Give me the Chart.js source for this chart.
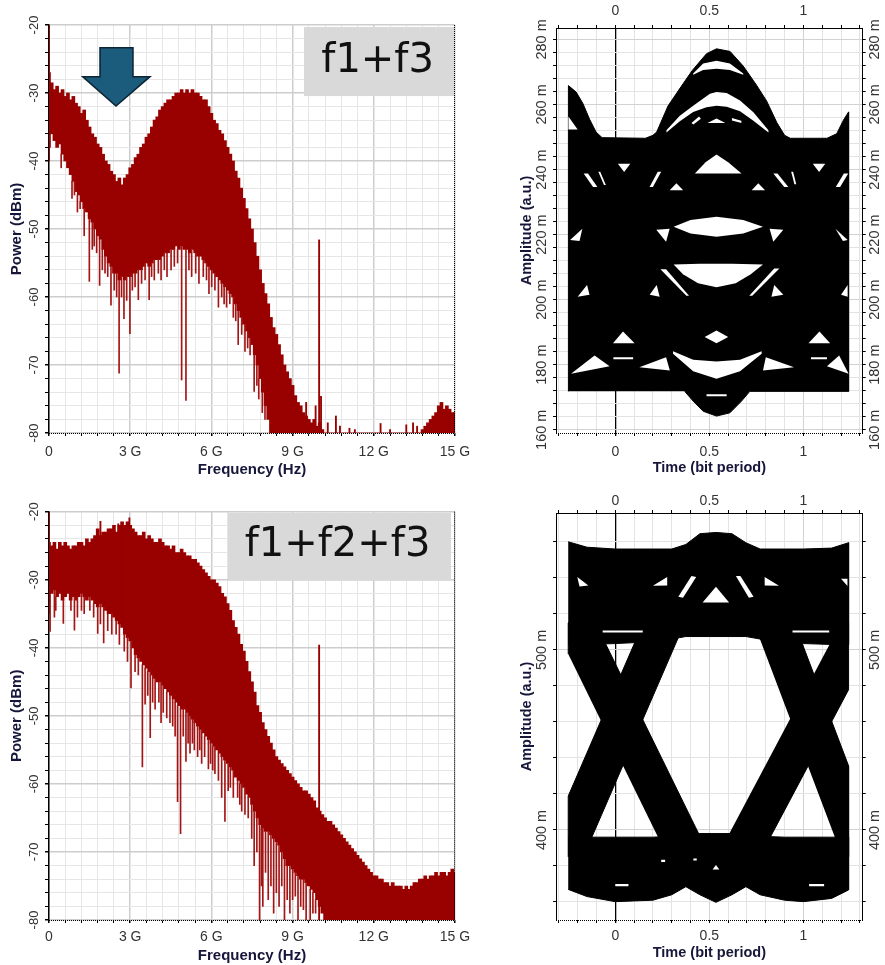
<!DOCTYPE html>
<html>
<head>
<meta charset="utf-8">
<title>Spectra and eye diagrams</title>
<script src="https://cdn.jsdelivr.net/npm/chart.js@4.4.1/dist/chart.umd.min.js"></script>
<style>
  html, body { margin: 0; padding: 0; background: #fff; }
  #wrap { position: relative; width: 885px; height: 965px; overflow: hidden; background: #fff; }
  #wrap canvas { position: absolute; }
</style>
</head>
<body>
<div id="wrap">
  <canvas id="spec1" width="480" height="480" style="left:0px;top:0px"></canvas>
  <canvas id="eye1" width="385" height="480" style="left:500px;top:0px"></canvas>
  <canvas id="spec2" width="480" height="475" style="left:0px;top:490px"></canvas>
  <canvas id="eye2" width="385" height="475" style="left:500px;top:490px"></canvas>
</div>
<script>
// Frequency bins (GHz) shared by both spectra
const freqGHz = [
  0.0,0.1,0.2,0.3,0.4,0.5,0.6,0.7,0.8,0.9,
  1.0,1.1,1.2,1.3,1.4,1.5,1.6,1.7,1.8,1.9,
  2.0,2.1,2.2,2.3,2.4,2.5,2.6,2.7,2.8,2.9,
  3.0,3.1,3.2,3.3,3.4,3.5,3.6,3.7,3.8,3.9,
  4.0,4.1,4.2,4.3,4.4,4.5,4.6,4.7,4.8,4.9,
  5.0,5.1,5.2,5.3,5.4,5.5,5.6,5.7,5.8,5.9,
  6.0,6.1,6.2,6.3,6.4,6.5,6.6,6.7,6.8,6.9,
  7.0,7.1,7.2,7.3,7.4,7.5,7.6,7.7,7.8,7.9,
  8.0,8.1,8.2,8.3,8.4,8.5,8.6,8.7,8.8,8.9,
  9.0,9.1,9.2,9.3,9.4,9.5,9.6,9.7,9.8,9.9,
  10.0,10.1,10.2,10.3,10.4,10.5,10.6,10.7,10.8,10.9,
  11.0,11.1,11.2,11.3,11.4,11.5,11.6,11.7,11.8,11.9,
  12.0,12.1,12.2,12.3,12.4,12.5,12.6,12.7,12.8,12.9,
  13.0,13.1,13.2,13.3,13.4,13.5,13.6,13.7,13.8,13.9,
  14.0,14.1,14.2,14.3,14.4,14.5,14.6,14.7,14.8,14.9,
  15.0
];

// f1+f3 spectrum: top and bottom of the dense trace (dBm)
const spec1Hi = [
  -27,-28.5,-29.5,-29,-30,-29.5,-30.5,-30,-31,-30.5,
  -31.5,-32,-33,-32.5,-34,-35,-36,-36.5,-37.5,-38,
  -39,-40,-40.5,-41.5,-42,-43,-42.5,-43.5,-42.5,-42,
  -41,-40.5,-39.5,-39,-38,-37.5,-36.5,-36,-35,-34,
  -33.5,-32.5,-32,-31.5,-31,-31,-30.5,-30,-30,-29.5,
  -30,-29.5,-30,-29.5,-30,-30,-30.5,-31,-31,-32,
  -33,-34,-34.5,-35.5,-36,-37,-38,-39,-40,-41.5,
  -42.5,-44,-45.5,-47,-48.5,-50,-52,-54,-56,-58,
  -59.5,-61,-63,-64.5,-65.5,-67,-68.5,-70,-71,-72,
  -73,-74.5,-75.5,-76,-77,-77.5,-78,-78.5,-78,-79,
  -78.5,-79.5,-80,-80,-80,-80,-80,-80,-80,-80,
  -80,-80,-80,-80,-80,-80,-80,-80,-80,-80,
  -80,-80,-80,-80,-80,-80,-80,-80,-80,-80,
  -80,-80,-80,-80,-80,-80,-80,-80,-79.5,-79,
  -78.5,-78,-77.5,-77,-76,-75.5,-76.5,-76,-76.5,-77,
  -77
];
const spec1Lo = [
  -38,-36,-37,-38,-37.5,-39,-40,-41,-42,-43,
  -44.5,-45,-46,-47,-47.5,-48.5,-49,-50,-51,-51.5,
  -53,-54,-55,-55.5,-56.5,-56.5,-57.5,-57,-57.5,-57,
  -57,-56.5,-56.5,-56,-56,-55.5,-55,-55.5,-55,-54.5,
  -54.5,-54.5,-54,-53.5,-53.5,-53,-53,-52.5,-53,-52.5,
  -53,-53,-53.5,-53,-53.5,-54,-54,-54.5,-55,-55.5,
  -56,-56.5,-57,-57.5,-58,-58.5,-59,-59.5,-60,-61,
  -62,-63,-64,-65,-66,-67,-68.5,-70,-72,-74,
  -76,-78,-80,-80,-80,-80,-80,-80,-80,-80,
  -80,-80,-80,-80,-80,-80,-80,-80,-80,-80,
  -80,-80,-80,-80,-80,-80,-80,-80,-80,-80,
  -80,-80,-80,-80,-80,-80,-80,-80,-80,-80,
  -80,-80,-80,-80,-80,-80,-80,-80,-80,-80,
  -80,-80,-80,-80,-80,-80,-80,-80,-80,-80,
  -80,-80,-80,-80,-80,-80,-80,-80,-80,-80,
  -80
];
const spec1NotchF = [0.45,0.85,0.94,1.05,1.15,1.3,1.49,1.6,1.67,1.76,1.87,1.97,2.07,2.17,2.29,2.41,2.5,2.59,2.68,2.77,2.87,2.99,3.08,3.18,3.3,3.42,3.55,3.7,3.79,3.89,4.04,4.14,4.26,4.36,4.51,4.63,4.75,4.9,5.06,5.17,5.27,5.42,5.54,5.7,5.82,5.91,6.01,6.13,6.26,6.38,6.47,6.56,6.68,6.81,6.9,6.99,7.12,7.24,7.34,7.43,7.58,7.68,7.75,7.88,7.98];
const spec1NotchDb = [-41,-45.5,-45,-47.5,-47,-51,-57.7,-53,-52.5,-53.5,-58.3,-56,-56.5,-57,-61.2,-59,-60,-71.2,-60,-63.2,-60.5,-65.4,-59,-58.5,-60.4,-58,-57.5,-60.4,-57,-57.5,-56.5,-57.5,-56,-57,-56,-55.5,-55,-72.2,-75.2,-56,-57,-56.5,-58,-57,-57.5,-59.5,-58.5,-59,-61.5,-60,-61,-61.5,-61,-63,-63.5,-67,-65.5,-68,-67.5,-68.5,-73.9,-73,-75,-77,-78];
const spec1SpikeF = [0, 9.5, 9.85, 9.98, 10.05, 10.3, 10.6, 10.75, 11.1, 11.3, 12.25, 12.6, 13.2, 13.45, 13.6];
const spec1SpikeLo = [-40,-80,-80,-80,-80,-80,-80,-80,-80,-80,-80,-80,-80,-80,-80];
const spec1SpikeHi = [-20,-75.5,-76,-51.6,-74.6,-78.5,-77.5,-79,-79.3,-79.5,-78.6,-79.5,-78.8,-78.5,-79];

// f1+f2+f3 spectrum
const spec2Hi = [
  -24.5,-25,-24.5,-25.5,-24.5,-25,-24.5,-25,-25.5,-25,
  -25,-24.5,-24.5,-25,-24,-24.5,-24,-23.5,-22.5,-23.5,
  -23,-23,-22.5,-22.5,-22,-23,-22,-21.5,-22,-21.5,
  -22,-22.5,-23,-23.5,-23.5,-23,-24,-23.5,-24,-24.5,
  -24.5,-24,-24.5,-25,-25,-25.5,-25,-26,-26,-25.5,
  -26,-26.5,-26.5,-27,-27,-27.5,-28,-28.5,-29,-29.5,
  -30,-30,-30.5,-31,-32,-32.5,-33.5,-34.5,-36,-37,
  -38,-39.5,-40.5,-42,-43.5,-45,-46.5,-48.5,-49.5,-51,
  -52,-53,-54,-55,-56,-56.5,-57,-57.5,-58,-58.5,
  -59,-59.5,-60,-60.5,-61,-61,-61.5,-62,-62.5,-63.5,
  -64,-64.5,-65,-65.5,-65.5,-66,-66.5,-67,-67.5,-68,
  -68.5,-69,-69.5,-70,-70.5,-71,-71.5,-72,-72.5,-73,
  -73.5,-73.5,-74,-74,-74.5,-74.5,-75,-74.5,-75,-75,
  -75,-75.5,-75,-75.5,-75,-74.5,-74.5,-74,-74,-73.5,
  -74,-73.5,-73.5,-73,-73.5,-73,-73,-73.5,-73,-72.5,
  -73
];
const spec2Lo = [
  -33,-32,-31.5,-32.5,-32,-33,-32.5,-32,-33,-32.5,
  -33,-32.5,-32,-32.5,-33,-32.5,-33,-33.5,-34,-33.5,
  -34,-34.5,-35,-35,-35.5,-36,-36.5,-37,-38,-38.5,
  -39,-40,-41,-41.5,-42,-42.5,-43,-43.5,-44,-44.5,
  -45,-45,-45.5,-46,-46.5,-47,-47.5,-48,-48.5,-49,
  -49,-49.5,-50,-50.5,-51,-51.5,-52,-52.5,-53,-53.5,
  -54,-54.5,-55,-55.5,-56,-56.5,-57,-57.5,-58,-59,
  -59.5,-60,-60.5,-61.5,-62,-63,-64,-65,-66,-66.5,
  -67,-67,-67.5,-68,-68.5,-69,-70,-71,-72,-72,
  -72.5,-73,-73.5,-74,-74,-74.5,-75,-75.5,-76,-77,
  -78,-79,-80,-80,-80,-80,-80,-80,-80,-80,
  -80,-80,-80,-80,-80,-80,-80,-80,-80,-80,
  -80,-80,-80,-80,-80,-80,-80,-80,-80,-80,
  -80,-80,-80,-80,-80,-80,-80,-80,-80,-80,
  -80,-80,-80,-80,-80,-80,-80,-80,-80,-80,
  -80
];
const spec2NotchF = [0.04,0.2,0.25,0.53,0.81,0.94,1.05,1.2,1.3,1.51,1.65,1.8,1.9,2.02,2.17,2.32,2.48,2.6,2.78,2.9,3.03,3.18,3.3,3.45,3.55,3.65,3.74,3.83,3.92,4.06,4.14,4.22,4.35,4.47,4.57,4.66,4.75,4.86,4.96,5.06,5.14,5.21,5.3,5.37,5.49,5.57,5.64,5.75,5.89,5.97,6.05,6.13,6.26,6.38,6.5,6.62,6.7,6.81,6.97,7.05,7.12,7.24,7.36,7.49,7.58,7.68,7.78,7.85,7.9,8.0,8.1,8.2,8.3,8.4,8.5,8.6,8.7,8.8,8.9,9.0,9.1,9.2,9.3,9.4,9.5,9.65,9.75,9.85];
const spec2NotchDb = [-37.6,-35.5,-34.5,-36.4,-34.5,-37.4,-35.5,-34.5,-35,-34.5,-35.5,-37.9,-36.5,-39.3,-37.5,-38,-38,-39.5,-40.5,-42,-45.9,-43.5,-44,-57.5,-48.3,-47,-53.2,-48,-49,-48,-51,-49.5,-50.3,-51,-51.5,-53,-62.6,-67.3,-53,-56.7,-54,-55.5,-54,-55,-56,-55,-57,-56,-57.8,-57,-58,-58.5,-59.5,-62,-65.5,-61,-60.5,-62,-62,-63,-64,-64.5,-65,-68,-72,-70,-80,-75,-78,-73,-77,-75,-79,-76,-78,-75,-80,-77,-79,-77,-76.5,-80,-78,-78.5,-80,-80,-79,-79];
const spec2SpikeF = [0, 1.9, 2.56, 2.97, 9.98];
const spec2SpikeLo = [-35, -24, -23, -22.5, -80];
const spec2SpikeHi = [-20, -21.4, -21.8, -20.9, -39.6];

// Label boxes and the arrow, in data units (GHz, dBm)
const box1 = [9.42, 15, -30.45, -20.3];
const box1Text = 'f1+f3';
const box1TextAt = [12.14, -26.9];
const box2 = [6.61, 14.85, -30.14, -20.15];
const box2Text = 'f1+f2+f3';
const box2TextAt = [10.66, -26.58];
const arrowF = [1.884, 3.103, 3.103, 3.731, 2.475, 1.245, 1.884];
const arrowDb = [-23.34, -23.34, -27.6, -27.6, -31.91, -27.6, -27.6];

// Eye diagram 1 (f1+f3): outline of the trace cloud (time in bit periods, amplitude in m a.u.)
const eye1OuterT = [-0.249,-0.249,-0.208,-0.172,-0.137,-0.102,-0.07,0.16,0.2,0.22,0.28,0.35,0.41,0.485,0.538,0.61,0.68,0.75,0.805,0.858,0.9,0.93,1.125,1.177,1.213,1.24,1.24,0.715,0.671,0.609,0.538,0.467,0.414,0.369];
const eye1OuterV = [171.8,265.8,263.8,260.3,255.5,251.5,249.8,249.6,250.5,251.5,259.5,265.5,270.5,275.6,277.1,276.3,271.8,266,261,254.5,250.5,249.6,249.6,251,255.2,257.7,171.8,171.8,168.8,165.2,164.2,165.7,168.8,171.8];
// openings inside the cloud
const eye1HoleT = [
  [0.414,0.467,0.538,0.609,0.68,0.68,0.609,0.538,0.467,0.414],
  [0.272,0.343,0.414,0.503,0.538,0.592,0.663,0.734,0.814,0.814,0.734,0.663,0.592,0.538,0.485,0.414,0.343,0.272],
  [0.405,0.445,0.455,0.415],
  [0.49,0.538,0.585],
  [0.62,0.67,0.67,0.62],
  [0.423,0.48,0.538,0.6,0.671],
  [0.014,0.08,0.047],
  [1.05,1.116,1.083],
  [-0.168,-0.145,-0.095,-0.118],
  [-0.09,-0.08,-0.05,-0.06],
  [0.226,0.244,0.2,0.182],
  [0.84,0.862,0.92,0.898],
  [0.935,0.945,0.962,0.952],
  [1.215,1.238,1.195,1.172],
  [0.289,0.325,0.361],
  [0.725,0.76,0.796],
  [0.31,0.4,0.538,0.68,0.785,0.68,0.538,0.4],
  [0.31,0.45,0.62,0.785,0.72,0.64,0.538,0.44,0.36],
  [0.24,0.27,0.392,0.378],
  [0.845,0.872,0.728,0.712],
  [0.475,0.538,0.6,0.538],
  [0.307,0.414,0.538,0.663,0.778,0.778,0.663,0.538,0.414,0.307],
  [-0.235,-0.03,-0.11],
  [0.128,0.29,0.27],
  [0.785,0.8,0.95],
  [1.125,1.19,1.24],
  [-0.012,0.041,0.103],
  [1.027,1.085,1.142],
  [-0.24,-0.175,-0.19],
  [0.218,0.289,0.27],
  [0.82,0.893,0.84],
  [1.17,1.235,1.21],
  [-0.2,-0.137,-0.15],
  [0.183,0.236,0.22],
  [0.83,0.893,0.845],
  [1.2,1.235,1.235],
  [0.485,0.592,0.592,0.485],
  [-0.01,0.095,0.095,-0.01],
  [1.04,1.125,1.125,1.04],
  [-0.249,-0.2,-0.249]
];
const eye1HoleV = [
  [269.5,272.6,273.4,272.6,269.5,269.1,270.6,271.0,270.6,269.1],
  [252.1,256.5,259.6,263.3,263.8,263.5,261.2,257.6,252.1,251.4,255.0,257.9,259.3,259.6,259.1,257.7,254.8,251.4],
  [254.3,256.3,255.6,253.8],
  [254.3,255.7,254.3],
  [255.8,255.0,254.3,255.1],
  [238.8,242.2,244.6,242.2,238.8],
  [241.8,241.8,239.2],
  [241.8,241.8,239.2],
  [238.8,238.8,234.6,234.6],
  [239.3,239.3,235.2,235.2],
  [239.3,239.3,234.6,234.6],
  [238.8,238.8,234.6,234.6],
  [239.3,239.3,235.5,235.5],
  [238.8,238.8,234.6,234.6],
  [233.6,235.8,233.6],
  [233.6,235.8,233.6],
  [222.4,224.5,225.5,224.5,222.4,220.3,219.3,220.3],
  [210.8,211,211,210.8,207.8,205,203.8,205,207.8],
  [209.3,209.3,201.2,201.2],
  [209.6,209.6,201.2,201.2],
  [188.5,190.5,188.5,186.6],
  [184.1,181.5,181,181.5,184.1,183.4,178,175.7,178,183.4],
  [177.2,179.5,182.8],
  [179.2,178.2,182.3],
  [178.2,182.3,179.2],
  [179.5,182.8,177.2],
  [186.6,190.2,186.6],
  [186.6,190.2,186.6],
  [218.3,221.8,218],
  [221.5,221.8,217.8],
  [221.8,221.5,217.8],
  [221.8,218.3,218],
  [200.9,201.5,204.5],
  [201.5,200.9,204.5],
  [200.9,201.5,204.5],
  [201.5,204.5,200.9],
  [170.9,170.9,170.3,170.3],
  [182.3,182.3,181.7,181.7],
  [182.3,182.3,181.7,181.7],
  [256.3,252.3,252.3]
];

// Eye diagram 2 (f1+f2+f3): the two rails, the four transition arms and small openings
const eye2RailT = [-0.25,-0.15,0,0.2,0.3,0.375,0.45,0.535,0.62,0.694,0.77,0.9,1.0,1.15,1.24];
const eye2TopOuter = [560,557,556,556,556,558.5,564.5,565.2,564.5,559.5,556,556,556,556.5,559.5];
const eye2TopInner = [503,503,503.5,504.5,506,507.4,507.4,507.4,507.4,507.4,506,504.5,503.5,503,503];
const eye2BotInner = [396,396,396,396,396.5,397.5,398,398,398,397.5,396.5,396,396,396,396];
const eye2BotOuter = [367,363,360.2,361,364,368.5,364,359.8,364,368.5,364,361,360.2,362,366.7];
const eye2ArmT = [
  [-0.25,-0.25,-0.106,0.504,0.279],
  [-0.25,-0.25,0.149,0.369,-0.17],
  [0.736,0.952,1.24,1.24,1.207],
  [0.54,0.768,1.24,1.24,1.2]
];
const eye2ArmV = [
  [497.7,515,515,385,385],
  [385,418.8,515,515,385],
  [515,515,435.6,385,385],
  [385,385,477.9,515,515]
];
const eye2HoleT = [
  [-0.202,-0.143,-0.19],
  [0.276,0.276,0.2],
  [0.405,0.43,0.36,0.335],
  [0.641,0.665,0.735,0.71],
  [0.464,0.535,0.605],
  [0.794,0.794,0.87],
  [1.2,1.234,1.234],
  [-0.067,0.146,0.146,-0.067],
  [0.942,1.137,1.137,0.942],
  [0.244,0.265,0.265,0.244],
  [0.415,0.433,0.433,0.415],
  [0.517,0.535,0.553],
  [0,0.07,0.07,0],
  [1.03,1.11,1.11,1.03]
];
const eye2HoleV = [
  [540.4,535.7,535.2],
  [540.4,535.8,535.6],
  [541,540.5,529,529.5],
  [541,541,529.5,529],
  [526.3,535,526.3],
  [540.4,535.8,535.6],
  [539.5,539.5,535.5],
  [510.8,510.8,509.6,509.6],
  [510.8,510.8,509.6,509.6],
  [383.4,383.4,382.2,382.2],
  [384.2,384.2,383,383],
  [378,380.6,378],
  [370,370,368.8,368.8],
  [370,370,368.8,368.8]
];

// ---------------------------------------------------------------------------

const SANS = "'Liberation Sans', Arial, sans-serif";
const NARROW = "'Liberation Sans Narrow', 'Liberation Sans', Arial, sans-serif";
const TITLE_COLOR = '#16163a';
const TICK_COLOR = '#333';
const RED = '#990000';

Chart.defaults.font.family = SANS;

function isMult(v, m) {
  return Math.abs(v / m - Math.round(v / m)) < 1e-6;
}

function toPts(ts, vs) {
  return ts.map((t, i) => ({x: t, y: vs[i]}));
}

// Dotted plot edges (bottom, and right for the spectra).
const dottedEdgePlugin = {
  id: 'dottedEdges',
  afterDraw(chart, args, opts) {
    const {ctx, chartArea: a} = chart;
    ctx.save();
    ctx.setLineDash([1, 1]);
    ctx.lineWidth = 1;
    ctx.strokeStyle = '#000';
    ctx.beginPath();
    const yb = Math.round(a.bottom) + 0.5;
    ctx.moveTo(a.left, yb);
    ctx.lineTo(a.right, yb);
    if (opts.right) {
      const xr = Math.round(a.right) - 0.5;
      ctx.moveTo(xr, a.top);
      ctx.lineTo(xr, a.bottom);
    }
    ctx.stroke();
    ctx.restore();
  }
};

// Draws the grey caption box, its text and (optionally) the arrow.
const labelBoxPlugin = {
  id: 'labelBox',
  afterDatasetsDraw(chart, args, opts) {
    const {ctx} = chart;
    const x = chart.scales.x;
    const y = chart.scales.y;
    ctx.save();
    if (opts.arrowF) {
      ctx.beginPath();
      opts.arrowF.forEach((f, i) => {
        const px = x.getPixelForValue(f);
        const py = y.getPixelForValue(opts.arrowDb[i]);
        if (i === 0) ctx.moveTo(px, py); else ctx.lineTo(px, py);
      });
      ctx.closePath();
      ctx.fillStyle = '#1b5c7c';
      ctx.fill();
      ctx.lineWidth = 1.5;
      ctx.strokeStyle = '#0d2433';
      ctx.stroke();
    }
    const x0 = x.getPixelForValue(opts.box[0]);
    const x1 = x.getPixelForValue(opts.box[1]);
    const y0 = y.getPixelForValue(opts.box[3]);
    const y1 = y.getPixelForValue(opts.box[2]);
    ctx.fillStyle = '#d9d9d9';
    ctx.fillRect(x0, y0, x1 - x0, y1 - y0);
    ctx.fillStyle = '#111';
    ctx.font = "40px 'DejaVu Sans', Verdana, sans-serif";
    ctx.textAlign = 'center';
    ctx.textBaseline = 'alphabetic';
    ctx.fillText(opts.text, x.getPixelForValue(opts.textAt[0]), y.getPixelForValue(opts.textAt[1]));
    ctx.restore();
  }
};

function spectrumChart(id, hi, lo, notchF, notchDb, spikeF, spikeLo, spikeHi, layout, caption) {
  const body = freqGHz.map((f, i) => ({x: f, y: [lo[i], hi[i]]}));
  const notches = notchF.map((f, i) => ({x: f, y: [notchDb[i], lo[Math.round(f * 10)]]}));
  const spikes = spikeF.map((f, i) => ({x: f, y: [spikeLo[i], spikeHi[i]]}));

  return new Chart(document.getElementById(id), {
    type: 'bar',
    data: {
      datasets: [
        {data: body, backgroundColor: RED, barThickness: 3, stack: 'spec', order: 3},
        {data: notches, backgroundColor: '#a31515', barThickness: 1, stack: 'spec', order: 2},
        {data: spikes, backgroundColor: RED, barThickness: 1.2, stack: 'spec', order: 1}
      ]
    },
    plugins: [labelBoxPlugin, dottedEdgePlugin],
    options: {
      responsive: false,
      animation: false,
      devicePixelRatio: 1,
      layout: {padding: {top: layout.top, right: 25, left: 0, bottom: 0}},
      plugins: {
        legend: {display: false},
        tooltip: {enabled: false},
        labelBox: caption,
        dottedEdges: {right: true}
      },
      scales: {
        x: {
          type: 'linear',
          min: 0,
          max: 15,
          offset: false,
          afterFit: s => { s.height = layout.xAxisH; },
          grid: {
            offset: false,
            color: c => (c.tick && isMult(c.tick.value, 3) ? '#cdcdcd' : '#e6e6e6'),
            lineWidth: c => (c.tick && isMult(c.tick.value, 3) ? 1.5 : 1),
            tickLength: 3,
            tickColor: '#000'
          },
          border: {display: false},
          ticks: {
            stepSize: 0.6,
            autoSkip: false,
            maxRotation: 0,
            padding: layout.xTickPad,
            color: TICK_COLOR,
            font: {family: SANS, size: 14},
            callback: v => (isMult(v, 3) ? (Math.round(v) === 0 ? '0' : Math.round(v) + ' G') : '')
          },
          title: {
            display: true,
            text: 'Frequency (Hz)',
            color: TITLE_COLOR,
            font: {family: SANS, size: 15, weight: 'bold'},
            padding: {top: 0, bottom: layout.xTitlePad}
          }
        },
        y: {
          min: -80,
          max: -20,
          stacked: false,
          afterFit: s => { s.width = 49; },
          grid: {
            color: c => (c.tick && isMult(c.tick.value, 10) ? '#cdcdcd' : '#e6e6e6'),
            lineWidth: c => (c.tick && isMult(c.tick.value, 10) ? 1.5 : 1),
            tickLength: 4,
            tickColor: '#000'
          },
          border: {display: true, color: '#000', width: 1.5},
          ticks: {
            stepSize: 2,
            autoSkip: false,
            minRotation: 90,
            maxRotation: 90,
            crossAlign: 'center',
            padding: 1.3,
            color: TICK_COLOR,
            font: {family: NARROW, size: 13},
            callback: v => (isMult(v, 10) ? String(v) : '')
          },
          title: {
            display: true,
            text: 'Power (dBm)',
            color: TITLE_COLOR,
            font: {family: SANS, size: 15, weight: 'bold'},
            padding: {top: 8, bottom: 0}
          }
        }
      }
    }
  });
}

function shapeSet(points, color, order, border) {
  return {
    data: points,
    showLine: true,
    fill: 'shape',
    backgroundColor: color,
    borderColor: color,
    borderWidth: border,
    pointRadius: 0,
    pointHoverRadius: 0,
    tension: 0,
    order: order
  };
}

function eyeChart(id, shapes, holes, axis) {
  const datasets = shapes.map(p => shapeSet(p, '#000', 3, 1))
    .concat(holes.map(p => shapeSet(p, '#fff', 1, 0)));

  const xTick = v => {
    const r = Math.round(v * 10) / 10;
    return r === 0 || r === 0.5 || r === 1 ? String(r) : '';
  };
  const xGridColor = c => {
    if (!c.tick) return '#e3e3e3';
    const r = Math.round(c.tick.value * 10) / 10;
    if (r === 0) return '#000';
    return r === 0.5 || r === 1 ? '#d2d2d2' : '#e3e3e3';
  };
  const yLabelled = v => axis.yLabels.indexOf(Math.round(v)) >= 0 && isMult(v, 1);
  const yTickFont = {family: SANS, size: 14.5};
  const xTickFont = {family: NARROW, size: 14};

  return new Chart(document.getElementById(id), {
    type: 'scatter',
    data: {datasets},
    plugins: [dottedEdgePlugin],
    options: {
      responsive: false,
      animation: false,
      devicePixelRatio: 1,
      plugins: {legend: {display: false}, tooltip: {enabled: false}, dottedEdges: {right: false}},
      elements: {point: {radius: 0}},
      scales: {
        x: {
          type: 'linear',
          position: 'bottom',
          min: -0.315,
          max: 1.315,
          afterFit: s => { s.height = axis.bottomH; },
          grid: {
            color: xGridColor,
            lineWidth: c => (c.tick && Math.abs(c.tick.value) < 1e-9 ? 1.3 : 1),
            tickLength: 3,
            tickColor: '#000'
          },
          border: {display: false},
          ticks: {
            stepSize: 0.1,
            includeBounds: false,
            autoSkip: false,
            maxRotation: 0,
            padding: axis.xPadBottom,
            color: TICK_COLOR,
            font: xTickFont,
            callback: xTick
          },
          title: {
            display: true,
            text: 'Time (bit period)',
            color: TITLE_COLOR,
            font: {family: SANS, size: 14.5, weight: 'bold'},
            padding: {top: 0, bottom: axis.xTitlePad}
          }
        },
        xt: {
          type: 'linear',
          position: 'top',
          min: -0.315,
          max: 1.315,
          afterFit: s => { s.height = axis.topH; },
          grid: {drawOnChartArea: false, tickLength: 3, tickColor: '#000'},
          border: {display: true, color: '#000', width: 1},
          ticks: {
            stepSize: 0.1,
            includeBounds: false,
            autoSkip: false,
            maxRotation: 0,
            padding: axis.xPadTop,
            color: TICK_COLOR,
            font: xTickFont,
            callback: xTick
          }
        },
        y: {
          type: 'linear',
          position: 'left',
          min: axis.yMin,
          max: axis.yMax,
          afterFit: s => { s.width = 56; },
          grid: {
            color: c => (c.tick && yLabelled(c.tick.value) ? '#d2d2d2' : '#e3e3e3'),
            tickLength: 3,
            tickColor: '#000'
          },
          border: {display: true, color: '#000', width: 1},
          ticks: {
            stepSize: axis.yStep,
            includeBounds: false,
            autoSkip: false,
            minRotation: 90,
            maxRotation: 90,
            crossAlign: 'center',
            padding: -8.85,
            color: TICK_COLOR,
            font: yTickFont,
            callback: v => (yLabelled(v) ? v + ' m' : '')
          },
          title: {
            display: true,
            text: 'Amplitude (a.u.)',
            color: TITLE_COLOR,
            font: {family: SANS, size: 14.5, weight: 'bold'},
            padding: {top: 18, bottom: 0}
          }
        },
        yr: {
          type: 'linear',
          position: 'right',
          min: axis.yMin,
          max: axis.yMax,
          afterFit: s => { s.width = 22.3; },
          grid: {drawOnChartArea: false, tickLength: 3, tickColor: '#000'},
          border: {display: true, color: '#000', width: 1},
          ticks: {
            stepSize: axis.yStep,
            includeBounds: false,
            autoSkip: false,
            minRotation: 90,
            maxRotation: 90,
            crossAlign: 'center',
            padding: -10.85,
            color: TICK_COLOR,
            font: yTickFont,
            callback: v => (yLabelled(v) ? v + ' m' : '')
          }
        }
      }
    }
  });
}

// ---- spectra ----
spectrumChart('spec1', spec1Hi, spec1Lo, spec1NotchF, spec1NotchDb, spec1SpikeF, spec1SpikeLo, spec1SpikeHi,
  {top: 25, xAxisH: 47, xTickPad: 7.5, xTitlePad: 1},
  {box: box1, text: box1Text, textAt: box1TextAt, arrowF: arrowF, arrowDb: arrowDb});

spectrumChart('spec2', spec2Hi, spec2Lo, spec2NotchF, spec2NotchDb, spec2SpikeF, spec2SpikeLo, spec2SpikeHi,
  {top: 21.7, xAxisH: 45, xTickPad: 6, xTitlePad: 0},
  {box: box2, text: box2Text, textAt: box2TextAt});

// ---- eye diagrams ----
eyeChart('eye1',
  [toPts(eye1OuterT, eye1OuterV)],
  eye1HoleT.map((t, i) => toPts(t, eye1HoleV[i])),
  {yMin: 159, yMax: 283.5, yStep: 4, yLabels: [160, 180, 200, 220, 240, 260, 280],
   topH: 28, bottomH: 47, xPadTop: 5.8, xPadBottom: 7.6, xTitlePad: 3.3});

const eye2Upper = toPts(eye2RailT.concat(eye2RailT.slice().reverse()),
  eye2TopOuter.concat(eye2TopInner.slice().reverse()));
const eye2Lower = toPts(eye2RailT.concat(eye2RailT.slice().reverse()),
  eye2BotInner.concat(eye2BotOuter.slice().reverse()));

eyeChart('eye2',
  [eye2Upper, eye2Lower].concat(eye2ArmT.map((t, i) => toPts(t, eye2ArmV[i]))),
  eye2HoleT.map((t, i) => toPts(t, eye2HoleV[i])),
  {yMin: 350, yMax: 576, yStep: 20, yLabels: [400, 500],
   topH: 23, bottomH: 45, xPadTop: 0.8, xPadBottom: 4.6, xTitlePad: 3.3});
</script>
</body>
</html>
